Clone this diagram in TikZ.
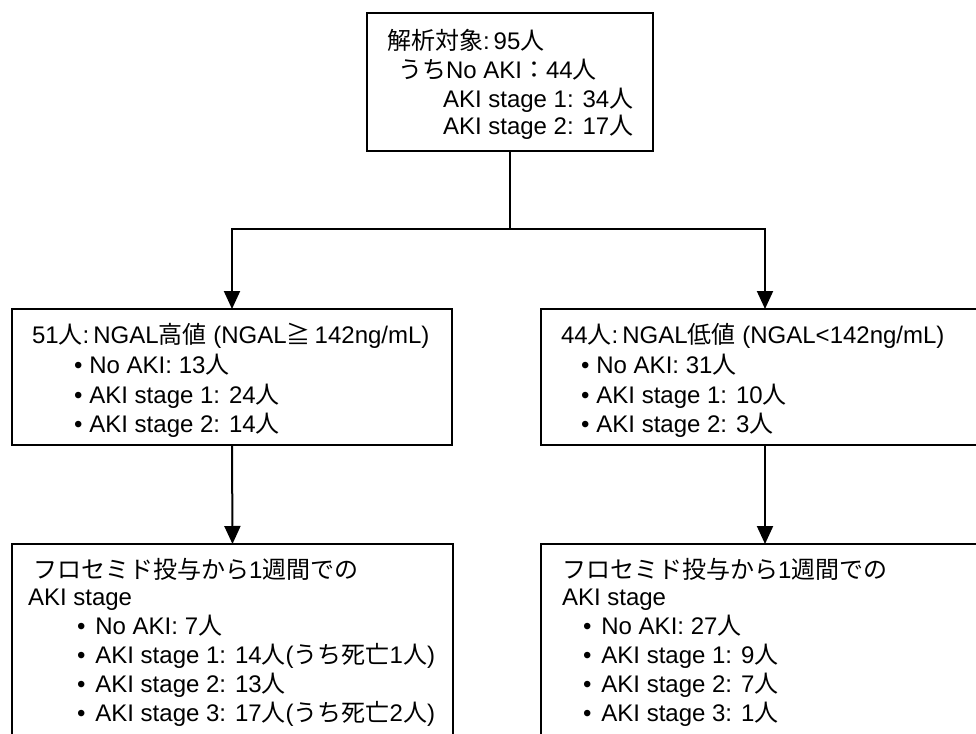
\documentclass[tikz,border=0pt]{standalone}
\usepackage{fontspec}
\setmainfont{Liberation Sans}
\newfontfamily\jpfont{Noto Sans CJK JP}
\usetikzlibrary{arrows.meta}
\newcommand\jp[1]{{\jpfont #1}}
\newcommand\nin{\jp{人}}
\begin{document}
\begin{tikzpicture}[x=1pt,y=-1pt,
  font=\fontsize{24}{29}\selectfont,
  frame/.style={draw, line width=2pt, rectangle, inner sep=0pt, outer sep=0pt, anchor=north west},
  txt/.style={anchor=base west, inner sep=0pt, outer sep=0pt},
  arr/.style={line width=2pt, -{Triangle[length=18pt,width=16pt]}}]
\useasboundingbox (0,0) rectangle (976,733);
\clip (0,0) rectangle (976,733);

% boxes
\node[frame, minimum width=286pt, minimum height=138pt] (top) at (367,13) {};
\node[frame, minimum width=440pt, minimum height=136pt] (midL) at (12,309) {};
\node[frame, minimum width=448pt, minimum height=136pt] (midR) at (541,309) {};
\node[frame, minimum width=441pt, minimum height=220pt] (botL) at (12,544) {};
\node[frame, minimum width=448pt, minimum height=220pt] (botR) at (541,544) {};

% connectors
\coordinate (split) at (510,229);
\draw[line width=2pt] (top.south) -- (split);
\draw[arr] (split) -| (midL.north);
\draw[arr] (split) -| (midR.north);
\draw[arr] (midL.south) -- (botL.north);
\draw[arr] (midR.south) -- (botR.north);

% top box text
\node[txt] (t1) at (387,50) {\jp{解析対象}:\,95\nin};
\node[txt] (t2) at (398,79) {\jp{うち}No AKI\jp{：}44\nin};
\node[txt] (t3) at (443,107) {AKI stage 1: 34\nin};
\node[txt] (t4) at (443,135) {AKI stage 2: 17\nin};

% high NGAL group
\node[txt] (l1) at (32,343) {51\nin:\,NGAL\jp{高値} (NGAL\jp{≧}\,142ng/mL)};
\node[txt] (l2) at (74,373) {•\hspace{7pt}No AKI: 13\nin};
\node[txt] (l3) at (74,403) {•\hspace{7pt}AKI stage 1: 24\nin};
\node[txt] (l4) at (74,432) {•\hspace{7pt}AKI stage 2: 14\nin};

% low NGAL group
\node[txt] (r1) at (561,343) {44\nin:\,NGAL\jp{低値} (NGAL<142ng/mL)};
\node[txt] (r2) at (581,373) {•\hspace{7pt}No AKI: 31\nin};
\node[txt] (r3) at (581,403) {•\hspace{7pt}AKI stage 1: 10\nin};
\node[txt] (r4) at (581,432) {•\hspace{7pt}AKI stage 2: 3\nin};

% outcome, high NGAL
\node[txt] (bl0) at (33,578) {\jp{フロセミド投与から}1\jp{週間での}};
\node[txt] (bl1) at (28,605) {AKI stage};
\node[txt] (bl2) at (77,634) {•\hspace{10pt}No AKI: 7\nin};
\node[txt] (bl3) at (77,663) {•\hspace{10pt}AKI stage 1: 14\nin(\jp{うち死亡}1\nin)};
\node[txt] (bl4) at (77,692) {•\hspace{10pt}AKI stage 2: 13\nin};
\node[txt] (bl5) at (77,721) {•\hspace{10pt}AKI stage 3: 17\nin(\jp{うち死亡}2\nin)};

% outcome, low NGAL
\node[txt] (br0) at (562,578) {\jp{フロセミド投与から}1\jp{週間での}};
\node[txt] (br1) at (562,605) {AKI stage};
\node[txt] (br2) at (583,634) {•\hspace{10pt}No AKI: 27\nin};
\node[txt] (br3) at (583,663) {•\hspace{10pt}AKI stage 1: 9\nin};
\node[txt] (br4) at (583,692) {•\hspace{10pt}AKI stage 2: 7\nin};
\node[txt] (br5) at (583,721) {•\hspace{10pt}AKI stage 3: 1\nin};
\end{tikzpicture}
\end{document}
